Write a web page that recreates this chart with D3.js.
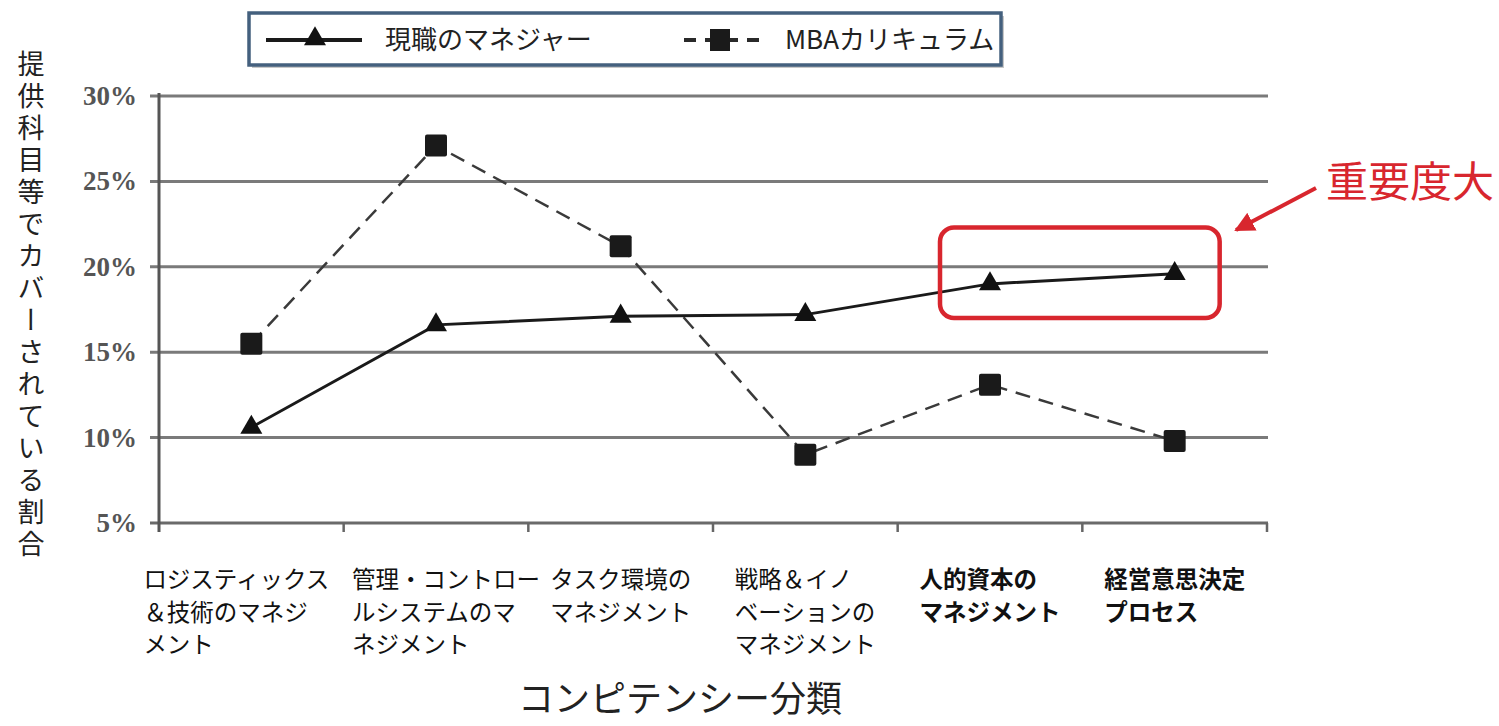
<!DOCTYPE html>
<html><head><meta charset="utf-8">
<script src="https://cdn.jsdelivr.net/npm/d3@7"></script>
<style>
body{margin:0;background:#fff;}
svg{display:block;}
</style></head>
<body>
<svg id="c" width="1499" height="726"></svg>
<script>
const categories = [
  ["ロジスティックス","＆技術のマネジ","メント"],
  ["管理・コントロー","ルシステムのマ","ネジメント"],
  ["タスク環境の","マネジメント"],
  ["戦略＆イノ","ベーションの","マネジメント"],
  ["人的資本の","マネジメント"],
  ["経営意思決定","プロセス"]
];
const boldCats = [false,false,false,false,true,true];
const managers = [10.6, 16.6, 17.1, 17.2, 19.0, 19.6];
const mba = [15.5, 27.1, 21.2, 9.0, 13.1, 9.8];
const yTicks = [5,10,15,20,25,30];
const seriesNames = ["現職のマネジャー","MBAカリキュラム"];
const yTitle = "提供科目等でカバーされている割合";
const xTitle = "コンピテンシー分類";
const note = "重要度大";

const svg = d3.select("#c");
const L=159, R=1267, T=96, B=523;
const x = d3.scaleBand().domain(d3.range(categories.length)).range([L,R]);
const y = d3.scaleLinear().domain([5,30]).range([B,T]);
const jp = "'Noto Sans CJK JP','Noto Sans',sans-serif";
const cx = i=>x(i)+x.bandwidth()/2;

// gridlines
svg.append("g").selectAll("line").data(yTicks).join("line")
  .attr("x1",L-9).attr("x2",R+1).attr("y1",d=>y(d)).attr("y2",d=>y(d))
  .attr("stroke",d=>d===5?"#6a6a6a":"#7a7a7a").attr("stroke-width",3);
// y axis
svg.append("line").attr("x1",L).attr("x2",L).attr("y1",T-3).attr("y2",B+9)
  .attr("stroke","#555").attr("stroke-width",3);
// x ticks
const xt = d3.range(1,categories.length).map(i=>x(i)).concat([R]);
svg.append("g").selectAll("line").data(xt).join("line")
  .attr("x1",d=>d).attr("x2",d=>d).attr("y1",B).attr("y2",B+9)
  .attr("stroke","#666").attr("stroke-width",2.5);
// y tick labels
svg.append("g").selectAll("text").data(yTicks).join("text")
  .attr("x",137).attr("y",d=>y(d)+9).attr("text-anchor","end")
  .attr("font-family","'Liberation Serif','Times New Roman',serif").attr("font-weight","bold")
  .attr("font-size",27).attr("fill","#555").text(d=>d+"%");

// x labels (block left-aligned, centred under category)
const nudge = [-15, 10, 0, 0, 0, 0];
const xl = svg.append("g");
categories.forEach((lines,i)=>{
  const t = xl.append("text").attr("y",588)
    .attr("font-family",jp).attr("font-size",23.5).attr("fill","#111")
    .attr("font-weight",boldCats[i]?"bold":"normal");
  const spans = lines.map((s,j)=>t.append("tspan").attr("y",588+j*32.5).text(s));
  const w = d3.max(spans, s=>s.node().getComputedTextLength());
  const left = cx(i) - w/2 + nudge[i];
  spans.forEach(s=>s.attr("x",left));
});

// lines
const line = d3.line().x((d,i)=>cx(i)).y(d=>y(d));
svg.append("path").datum(mba).attr("d",line).attr("fill","none")
  .attr("stroke","#3a3a3a").attr("stroke-width",2.5).attr("stroke-dasharray","15,9");
svg.append("path").datum(managers).attr("d",line).attr("fill","none")
  .attr("stroke","#1a1a1a").attr("stroke-width",3);
svg.append("g").selectAll("rect").data(mba).join("rect")
  .attr("x",(d,i)=>cx(i)-11).attr("y",d=>y(d)-11).attr("width",22).attr("height",22)
  .attr("rx",2).attr("fill","#1a1a1a");
const tri = d3.symbol().type(d3.symbolTriangle).size(210);
svg.append("g").selectAll("path").data(managers).join("path")
  .attr("d",tri).attr("transform",(d,i)=>`translate(${cx(i)},${y(d)})`).attr("fill","#111");

// legend
const lg = svg.append("g");
lg.append("rect").attr("x",252).attr("y",16).attr("width",752).attr("height",52).attr("fill","#c8c8c8");
lg.append("rect").attr("x",249).attr("y",13).attr("width",752).attr("height",52)
  .attr("fill","#fff").attr("stroke","#44607e").attr("stroke-width",3.5);
lg.append("line").attr("x1",266).attr("x2",362).attr("y1",40).attr("y2",40).attr("stroke","#1a1a1a").attr("stroke-width",4);
lg.append("path").attr("d",tri).attr("transform","translate(315,39)").attr("fill","#111");
lg.append("text").attr("x",385).attr("y",49).attr("font-family",jp).attr("font-size",26).attr("fill","#222").text(seriesNames[0]);
lg.append("line").attr("x1",684).attr("x2",762).attr("y1",40).attr("y2",40).attr("stroke","#2a2a2a").attr("stroke-width",4).attr("stroke-dasharray","12,9");
lg.append("rect").attr("x",710).attr("y",29).attr("width",20).attr("height",22).attr("fill","#1a1a1a");
lg.append("text").attr("x",785).attr("y",49).attr("font-family",jp).attr("font-size",26).attr("fill","#222").text(seriesNames[1]);

// y title
svg.append("text").attr("x",31).attr("y",50)
  .attr("font-family",jp).attr("font-size",27).attr("fill","#222")
  .style("writing-mode","vertical-rl").style("letter-spacing","5px").text(yTitle);
// x title
svg.append("text").attr("x",680).attr("y",712).attr("text-anchor","middle")
  .attr("font-family",jp).attr("font-size",36).attr("fill","#222").text(xTitle);

// highlight
const red="#d8262e";
svg.append("rect").attr("x",cx(4)-50).attr("y",y(22.3)).attr("width",cx(5)-cx(4)+95).attr("height",y(17.0)-y(22.3))
  .attr("rx",14).attr("fill","none").attr("stroke",red).attr("stroke-width",4.5);
svg.append("text").attr("x",1326).attr("y",197).attr("font-family",jp).attr("font-size",42).attr("fill",red).text(note);
svg.append("defs").append("marker").attr("id","ah").attr("viewBox","0 0 10 10").attr("refX",9).attr("refY",5)
  .attr("markerWidth",5).attr("markerHeight",5).attr("orient","auto")
  .append("path").attr("d","M0,0L10,5L0,10z").attr("fill",red);
svg.append("line").attr("x1",1316).attr("y1",188).attr("x2",1236).attr("y2",230)
  .attr("stroke",red).attr("stroke-width",4).attr("marker-end","url(#ah)");
</script>
</body></html>
